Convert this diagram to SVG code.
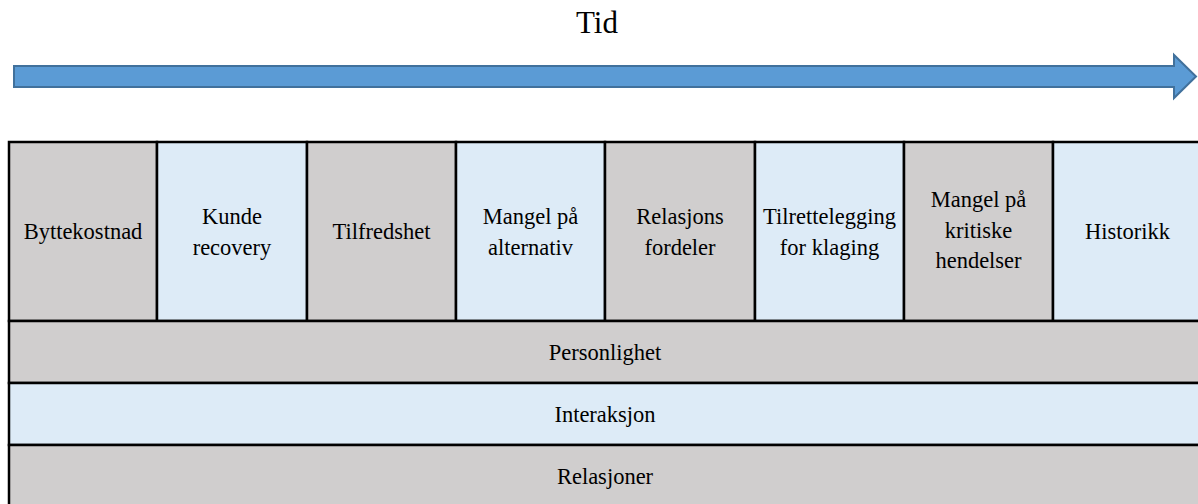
<svg xmlns="http://www.w3.org/2000/svg" width="1198" height="504" viewBox="0 0 1198 504">
<style>
text{fill:#000;text-anchor:middle;font-size:22.5px}
.g{fill:#D0CECE;stroke:#000;stroke-width:2.5}
.b{fill:#DDEBF7;stroke:#000;stroke-width:2.5}
</style>
<rect width="1198" height="504" fill="#fff"/>
<g font-family="'Liberation Serif', Tinos, 'Times New Roman', 'DejaVu Serif', serif">
<g id="time">
<text x="597" y="33" style="font-size:31px">Tid</text>
<path d="M14,66 L1174,66 L1174,55 L1196,76.5 L1174,98 L1174,87 L14,87 Z" fill="#5B9BD5" stroke="#41719C" stroke-width="2"/>
</g>
<g id="c1"><rect class="g" x="9" y="142" width="148" height="179"/><text x="83" y="239">Byttekostnad</text></g>
<g id="c2"><rect class="b" x="157" y="142" width="150" height="179"/><text x="232" y="224">Kunde</text><text x="232" y="254.5">recovery</text></g>
<g id="c3"><rect class="g" x="307" y="142" width="149" height="179"/><text x="381.5" y="239">Tilfredshet</text></g>
<g id="c4"><rect class="b" x="456" y="142" width="149" height="179"/><text x="530.5" y="224">Mangel på</text><text x="530.5" y="254.5">alternativ</text></g>
<g id="c5"><rect class="g" x="605" y="142" width="150" height="179"/><text x="680" y="224">Relasjons</text><text x="680" y="254.5">fordeler</text></g>
<g id="c6"><rect class="b" x="755" y="142" width="149" height="179"/><text x="829.5" y="224">Tilrettelegging</text><text x="829.5" y="254.5">for klaging</text></g>
<g id="c7"><rect class="g" x="904" y="142" width="149" height="179"/><text x="978.5" y="207">Mangel på</text><text x="978.5" y="237.5">kritiske</text><text x="978.5" y="268">hendelser</text></g>
<g id="c8"><rect class="b" x="1053" y="142" width="150" height="179"/><text x="1127.5" y="239">Historikk</text></g>
<g id="r1"><rect class="g" x="9" y="321" width="1194" height="62"/><text x="605" y="360">Personlighet</text></g>
<g id="r2"><rect class="b" x="9" y="383" width="1194" height="62"/><text x="605" y="421.5">Interaksjon</text></g>
<g id="r3"><rect class="g" x="9" y="445" width="1194" height="62"/><text x="605" y="484">Relasjoner</text></g>
<g id="connectors"></g>
</g>
</svg>
